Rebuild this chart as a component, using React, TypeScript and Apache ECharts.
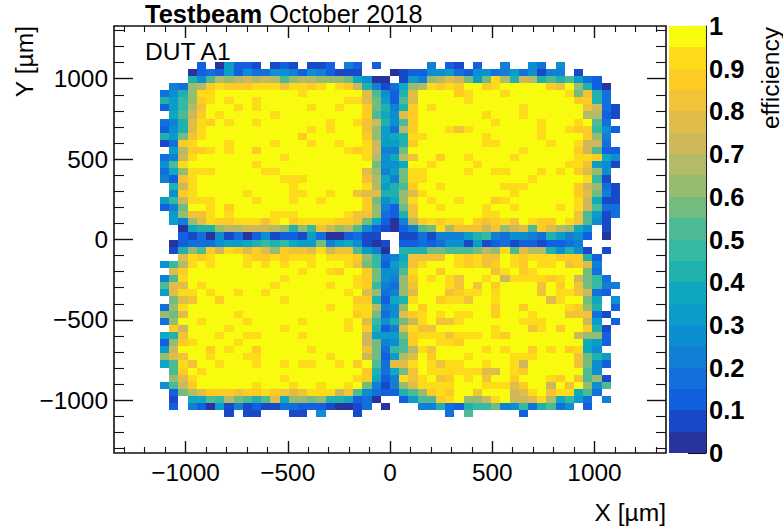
import React, { useEffect, useRef } from "react";
import * as echarts from "echarts";

// ---- data ----
// One character per cell: "." is an empty cell, 0-9 and a-j are the 20 colour contours (0 ... 19).
const leftHalfRows = [
  "....2.06221.121.112.42.2.",
  "...0232625335542542111...",
  "...85adcdededacddcccb7500",
  ".43cdhihhhiiigiihijihe841",
  "358ciijjjjjjjjjijjjjjjfa5",
  "869chijijjijjjjjjjjjiifb6",
  "269dgjjjijijjjjjijjijjhb8",
  ".7aehjijjjjjijjjjjjjjjha7",
  "348fihjijjijjjjjjjijjige8",
  "258fijjjjjjjjjjjijijjjgc6",
  "86bgijjjjjjjjjjhjjjjjjhc6",
  "13hijjjijjjjijjjijjijjie6",
  ".6dhhijijjhjjjjjjjjjihie4",
  "34eijjjjjjjjjijjjjjjjjid5",
  "5aijjjjjjjijjjjjjjjjjjjb5",
  "37ciiijjjjjiijjjjjjjjjfc4",
  "42gijjjjjjjjjiiijjjjjjgd7",
  ".8eijjjjjjjjjjijjjjjjjid6",
  ".5hijjjjjijjjjiijjijjgff8",
  "69eiiijjjjijjjijjijjjjhb5",
  "24bjjijhjjjjjjjjjjjjjjhc4",
  ".6cggijijjjjiiijjjjjiggc3",
  ".64cfihhiiigijhiiiihhgb72",
  "..0788cddeeedc8c9gecda521",
  "..2130513025122163002311.",
  ".0233356678989766b4675101",
  ".18caheihfhfchggfiegga640",
  "..fihijjjihhihiiijiiihc93",
  "59dijijjjijijijjijjjigb92",
  ".fhjjjjjjjjjjjjijjihjjhb5",
  "4aijjjjjjjjjjijjjjjjjihb5",
  "affjijjjjjjjijjjjjijjih94",
  "6fiijijjijjijjjjjjjjijfc3",
  ".bfgjjhjjjjjjijjjjjjjhh82",
  "3cijjjjjjjjjjjjjjjijjiid4",
  "cbfjjjjjijjjjjjjjjjjjhib3",
  "3cjjijjjjijjjjjijjjjijf95",
  ".hejjjjijjjjjijjjjjjijh82",
  "78gjjjijjiijjjjijjjjjje66",
  "2chijjjjijjjjjjjjjjjjjeb4",
  "6ejjjhjijjhjjjjjijjjjjgb3",
  "cfgjjijjjiijjjjjjjijjjeb2",
  "7aigjjijjjijjijiijjijhja3",
  ".ahjijjjjjjjjjjjjjjjjjh83",
  ".cfijjjjjjjjjijjjjjjjih72",
  "5aehjjjjjjijjjijjijjijb41",
  ".2bdfhhhghhihgfgiiiega532",
  ".1.77a9dba8af7ccbc887230.",
  ".2.42061412113322210013.0",
  ".......1.11...11.5...1...",
];

const rightHalfRows = [
  "....4.21.2..4..53.5......",
  "0122556325534635144.1....",
  ".164cdfeb6bid8ed8a8a632..",
  "37cdihihjjhijjjjjhgjc820.",
  "28fjjjjhijjjijjjjjjibg83.",
  "2afjjjjjijjjjjjjjjjjhh83.",
  "48hjijjjjjjjjjijjjjjjge31",
  "5fhjjjjjjjijjjijjjjjjdd21",
  "5ahjjjjjjjjijjjjijjjija3.",
  "3dhjjjigijjjjjjjijjihh952",
  "78iijjjjjjijjjjjijjjjhc4.",
  "68hjjjjjjjiijjjjjijjiee3.",
  "4bjjjjjjjjjjjjijjjjjhea22",
  "7dgjjhjjijjjjijjjjjjiih75",
  "57jjijjjjijjjjjjjjjiig651",
  "6biijjjjijjiijjjijijhfc5.",
  "4biijjjjjjjjjjjijjjjji91.",
  "8ahjjijjjjjjiiijjjjjhec31",
  "8cfijjjjjjjjjijjjjjjhfb41",
  "7cijijjijjjhijjjjjjjie711",
  "2bgjjijjjjijjijjjjijiea33",
  "28gjjjjjjjiijjjjjjjjga613",
  "04dhihiijhghigjihhjiga51.",
  "024abidgggegcefahfdc75.1.",
  ".113144468943554386452.0.",
  ".22323551612312212234....",
  ".888bbaaabdciafdd85851.1.",
  "47ggggjihiggjihiiihhh82..",
  "68gijjjihighjihjiijghf4..",
  "5aijjhjjjjjgijhijjjjjb3..",
  "4chjijigjjijeiiiihijeb93.",
  "3cgjjjigjgjhjjjjgjhjgb944",
  "4cfjjjghiijijjjjgjiige32.",
  "78ijjhiigjjijjjjjfijjb7.5",
  "5cjhjjjjjjjhjjhjjjjihc8.2",
  "5fhijijiijjhjjjijjjggg31.",
  "8beijggijjjjjjiiijjjje6.2",
  "4figgjjjjjjijjjgijhjjh81.",
  "6bhiiigiiijihjjjjjjjecc2.",
  "5ahjjiihjjjjjjjjjjjjj762.",
  "9adigjjjjjijijjhjijhi75..",
  "6dfjhjjjijjjjiiijjjjgb86.",
  "ffijigiijjijjiejjjjjgb52.",
  "7bgjiiiiiiffjihjjjjjja5..",
  "4igijghjijgjjhjjjihjgac1.",
  "4cfiiiijjjiiifhjjejgjc5a.",
  "28achihjjgjjjefijgii7a3..",
  ".26aahijcceijeefid7963.4.",
  "...44832899b45938a35.2...",
  "......3.a.....2..........",
];

const palette = [
  "#28349e", "#1749c8", "#125fe0", "#1170dc", "#1180d4",
  "#0c8fd0", "#0b9dc8", "#0ea8c0", "#20b0ae", "#36b9a2",
  "#4dba96", "#73bc80", "#96bc70", "#b3bb68", "#cdb85c",
  "#e0bc48", "#f2c238", "#fdcb24", "#fddb1a", "#f9fb0e",
];

const xMajorTicks = [-1000, -500, 0, 500, 1000];
const yMajorTicks = [-1000, -500, 0, 500, 1000];
const minorTicks = [
  -1300, -1200, -1100, -900, -800, -700, -600, -400, -300, -200, -100,
  100, 200, 300, 400, 600, 700, 800, 900, 1100, 1200, 1300,
];
const colorbarTicks = [0, 0.1, 0.2, 0.3, 0.4, 0.5, 0.6, 0.7, 0.8, 0.9, 1];

const X_LIMIT = 1350;
const Y_LIMIT = 1328;
const X_BIN = 45;
const Y_BIN = (2 * Y_LIMIT) / 60;
const LEVEL_CODES = "0123456789abcdefghij";
const FONT = "'Liberation Sans', Arial, sans-serif";

function buildCells(): number[][] {
  const cells: number[][] = [];
  leftHalfRows.forEach((left, r) => {
    const row = left + rightHalfRows[r];
    for (let c = 0; c < row.length; c++) {
      const level = LEVEL_CODES.indexOf(row[c]);
      if (level < 0) continue;
      cells.push([(c - 25 + 0.5) * X_BIN, (24.5 - r) * Y_BIN, level]);
    }
  });
  return cells;
}

const minusLabel = (v: number | string) => String(v).replace("-", "\u2212");

function tickAxis(position: string, limit: number, values: number[], length: number, grid = 0) {
  return {
    type: "value",
    gridIndex: grid,
    position,
    min: -limit,
    max: limit,
    axisLine: { show: false, onZero: false },
    splitLine: { show: false },
    axisLabel: { show: false },
    axisTick: {
      show: true,
      inside: true,
      length,
      customValues: values,
      lineStyle: { color: "#111", width: length > 11 ? 1.4 : 1.1 },
    },
  };
}

function labelAxis(position: string, limit: number, values: number[], length: number, margin: number) {
  const base: any = tickAxis(position, limit, values, length);
  base.axisLabel = {
    show: true,
    customValues: values,
    formatter: minusLabel,
    margin,
    fontFamily: FONT,
    fontSize: 24.4,
    color: "#000",
  };
  return base;
}

export default function App() {
  const ref = useRef<HTMLDivElement>(null);

  useEffect(() => {
    if (!ref.current) return;
    const chart = echarts.init(ref.current, undefined, { renderer: "svg" });

    const renderCell = (params: any, api: any) => {
      const x = api.value(0);
      const y = api.value(1);
      const a = api.coord([x - X_BIN / 2, y + Y_BIN / 2]);
      const b = api.coord([x + X_BIN / 2, y - Y_BIN / 2]);
      const left = Math.round(a[0]);
      const top = Math.round(a[1]);
      return {
        type: "rect",
        shape: { x: left, y: top, width: Math.round(b[0]) - left, height: Math.round(b[1]) - top },
        style: { fill: palette[api.value(2)] },
      };
    };

    const renderLevel = (params: any, api: any) => {
      const level = api.value(0);
      const a = api.coord([0, (level + 1) / 20]);
      const b = api.coord([1, level / 20]);
      const top = Math.round(a[1]);
      return {
        type: "rect",
        shape: { x: a[0], y: top, width: b[0] - a[0], height: Math.round(b[1]) - top },
        style: { fill: palette[level] },
      };
    };

    chart.setOption({
      animation: false,
      backgroundColor: "#fff",
      grid: [
        { left: 114, top: 26, width: 552, height: 427, show: true, borderColor: "#111", borderWidth: 1.6, backgroundColor: "transparent" },
        { left: 669, top: 26, width: 37, height: 427, show: false },
      ],
      xAxis: [
        labelAxis("bottom", X_LIMIT, xMajorTicks, 12, 7),
        tickAxis("top", X_LIMIT, xMajorTicks, 12),
        tickAxis("bottom", X_LIMIT, minorTicks, 6),
        tickAxis("top", X_LIMIT, minorTicks, 6),
        { type: "value", gridIndex: 1, min: 0, max: 1, show: false },
      ],
      yAxis: [
        labelAxis("left", Y_LIMIT, yMajorTicks, 19, 6),
        tickAxis("right", Y_LIMIT, yMajorTicks, 19),
        tickAxis("left", Y_LIMIT, minorTicks, 10),
        tickAxis("right", Y_LIMIT, minorTicks, 10),
        {
          type: "value",
          gridIndex: 1,
          position: "right",
          min: 0,
          max: 1,
          axisLine: { show: true, onZero: false, lineStyle: { color: "#222", width: 1 } },
          splitLine: { show: false },
          axisTick: { show: true, inside: true, length: 18, customValues: colorbarTicks, lineStyle: { color: "#111", width: 1.1 } },
          axisLabel: {
            show: true,
            customValues: colorbarTicks,
            margin: 3,
            fontFamily: FONT,
            fontSize: 25.5,
            fontWeight: "bold",
            color: "#000",
            formatter: (v: number) => String(Math.round(v * 10) / 10),
          },
        },
      ],
      series: [
        {
          type: "custom",
          xAxisIndex: 0,
          yAxisIndex: 0,
          renderItem: renderCell,
          data: buildCells(),
          silent: true,
          clip: true,
        },
        {
          type: "custom",
          xAxisIndex: 4,
          yAxisIndex: 4,
          renderItem: renderLevel,
          data: palette.map((_, i) => [i]),
          silent: true,
          z: 1,
        },
      ],
      graphic: [
        {
          type: "text",
          x: 145,
          y: 14,
          style: {
            text: "{b|Testbeam}{r| October 2018}",
            font: `25px ${FONT}`,
            fill: "#000",
            textVerticalAlign: "middle",
            rich: {
              b: { fontFamily: FONT, fontSize: 25.5, lineHeight: 22, fontWeight: "bold", fill: "#000" },
              r: { fontFamily: FONT, fontSize: 25.3, lineHeight: 22, fill: "#000" },
            },
          },
        },
        {
          type: "text",
          x: 145,
          y: 51,
          style: { text: "DUT A1", font: `24.6px ${FONT}`, fill: "#000", textVerticalAlign: "middle" },
        },
        {
          type: "text",
          x: 666,
          y: 512,
          style: { text: "X [\u00b5m]", font: `24.6px ${FONT}`, fill: "#000", textAlign: "right", textVerticalAlign: "middle" },
        },
        {
          type: "text",
          x: 24,
          y: 26,
          rotation: Math.PI / 2,
          style: { text: "Y [\u00b5m]", font: `24.6px ${FONT}`, fill: "#000", textAlign: "right", textVerticalAlign: "middle" },
        },
        {
          type: "text",
          x: 770,
          y: 27,
          rotation: Math.PI / 2,
          style: { text: "efficiency", font: `24.6px ${FONT}`, fill: "#000", textAlign: "right", textVerticalAlign: "middle" },
        },
      ],
    });

    return () => chart.dispose();
  }, []);

  return (
    <div
      ref={ref}
      style={{ position: "absolute", left: 0, top: 0, width: 783, height: 531, background: "#fff" }}
    />
  );
}
